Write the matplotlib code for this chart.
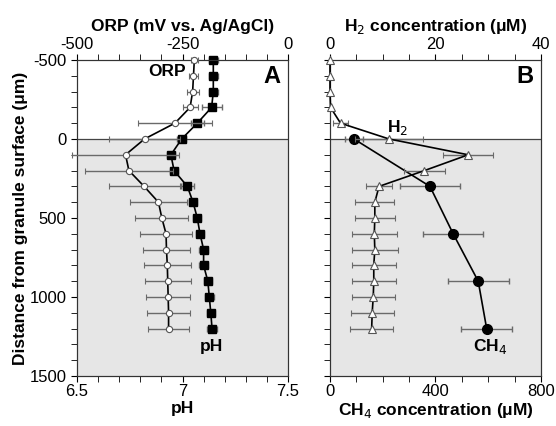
import numpy as np
import matplotlib.pyplot as plt
from matplotlib.ticker import MultipleLocator, FuncFormatter

plt.rcParams["font.family"] = ["Liberation Sans", "DejaVu Sans"]

# depth profile (um), shared by ORP, pH and H2
depth = [-500, -400, -300, -200, -100, 0, 100, 200, 300, 400,
         500, 600, 700, 800, 900, 1000, 1100, 1200]

orp = [-222, -224, -226, -232, -268, -340, -385, -377, -341, -307,
       -299, -289, -288, -286, -285, -284, -283, -283]
orp_err = [8, 10, 14, 18, 87, 85, 127, 104, 84, 68,
           63, 61, 55, 55, 54, 52, 50, 49]

ph = [7.146, 7.146, 7.146, 7.138, 7.07, 6.996, 6.945, 6.96, 7.023, 7.05,
      7.07, 7.083, 7.10, 7.10, 7.12, 7.127, 7.134, 7.14]
ph_err = [0.02, 0.02, 0.02, 0.047, 0.03, 0.02, 0.02, 0.02, 0.03, 0.02,
          0.02, 0.02, 0.02, 0.02, 0.02, 0.02, 0.02, 0.025]

h2 = [0, 0, 0, 0.1, 2.0, 11.2, 26.2, 17.9, 9.3, 8.5,
      8.5, 8.4, 8.5, 8.3, 8.3, 8.2, 8.0, 7.9]
h2_err = [np.nan, np.nan, np.nan, np.nan, 1.5, 6.4, 4.7, 3.9, 2.5, 3.7,
          3.8, 4.3, 4.4, 4.2, 4.2, 4.1, 4.1, 4.1]

ch4_depth = [0, 300, 600, 900, 1200]
ch4 = [91, 379, 467, 562, 594]
ch4_err = [35, 114, 115, 115, 97]

ERR_COLOR = "#6a6a6a"
SHADE = "#e6e6e6"
FS = 12.5

hyphen = FuncFormatter(lambda v, p: f"{v:g}".replace("\u2212", "-"))

fig = plt.figure(figsize=(5.56, 4.26), dpi=100)
ax_a = fig.add_axes([0.1385, 0.1174, 0.3795, 0.7418])
ax_b = fig.add_axes([0.5935, 0.1174, 0.3795, 0.7418])


def style_depth_axis(ax, labels):
    ax.set_ylim(1500, -500)
    ax.axhspan(0, 1500, color=SHADE, zorder=0, lw=0)
    ax.axhline(0, color="#444444", lw=0.9, zorder=1)
    ax.yaxis.set_major_locator(MultipleLocator(500))
    ax.yaxis.set_minor_locator(MultipleLocator(100))
    ax.yaxis.set_major_formatter(hyphen)
    ax.tick_params(axis="y", which="both", direction="out", length=4,
                   labelsize=12, labelleft=labels, right=False)
    for sp in ax.spines.values():
        sp.set_color("#333333")


def style_x(ax, major, minor):
    ax.xaxis.set_major_locator(MultipleLocator(major))
    ax.xaxis.set_minor_locator(MultipleLocator(minor))
    ax.xaxis.set_major_formatter(hyphen)
    ax.tick_params(axis="x", which="both", direction="out", length=4,
                   labelsize=12, pad=2)
    for sp in ax.spines.values():
        sp.set_color("#333333")


def profile(ax, x, y, err, **kw):
    cont = ax.errorbar(x, y, xerr=err, color="black", ecolor=ERR_COLOR,
                       elinewidth=1, capsize=2, lw=1.2, **kw)
    for art in cont.get_children():
        art.set_clip_on(False)
    return cont


# ---- panel A: pH (bottom) and ORP (top)
style_depth_axis(ax_a, True)
ax_a.set_xlim(6.5, 7.5)
style_x(ax_a, 0.5, 0.1)
profile(ax_a, ph, depth, ph_err, marker="s", ms=6, mfc="black",
        mec="black", zorder=4)
ax_a.set_xlabel("pH", fontsize=FS, fontweight="bold", labelpad=1)
ax_a.set_ylabel("Distance from granule surface (\u03bcm)", fontsize=FS,
                fontweight="bold", labelpad=1)

ax_orp = ax_a.twiny()
ax_orp.set_xlim(-500, 0)
style_x(ax_orp, 250, 50)
profile(ax_orp, orp, depth, orp_err, marker="o", ms=4.5, mfc="white",
        mec="#555555", mew=0.8, zorder=3)
ax_orp.set_xlabel("ORP (mV vs. Ag/AgCl)", fontsize=FS, fontweight="bold",
                  labelpad=4)
ax_orp.set_ylim(1500, -500)
ax_orp.text(-287, -426, "ORP", fontsize=FS, fontweight="bold",
            ha="center", va="center")
ax_a.text(7.138, 1315, "pH", fontsize=FS, fontweight="bold",
          ha="center", va="center")
ax_orp.text(-19, -394, "A", fontsize=17, fontweight="bold",
            ha="right", va="center")

# ---- panel B: CH4 (bottom) and H2 (top)
style_depth_axis(ax_b, False)
ax_b.set_xlim(0, 800)
style_x(ax_b, 400, 100)
profile(ax_b, ch4, ch4_depth, ch4_err, marker="o", ms=7, mfc="black",
        mec="black", zorder=4)
ax_b.set_xlabel("CH$_4$ concentration (\u03bcM)", fontsize=FS,
                fontweight="bold", labelpad=1)

ax_h2 = ax_b.twiny()
ax_h2.set_xlim(0, 40)
style_x(ax_h2, 20, 5)
profile(ax_h2, h2, depth, h2_err, marker="^", ms=6, mfc="white",
        mec="#555555", mew=0.8, zorder=3)
ax_h2.set_xlabel("H$_2$ concentration (\u03bcM)", fontsize=FS,
                 fontweight="bold", labelpad=4)
ax_h2.set_ylim(1500, -500)
ax_h2.text(12.9, -74, "H$_2$", fontsize=FS, fontweight="bold",
           ha="center", va="center")
ax_b.text(606, 1315, "CH$_4$", fontsize=FS, fontweight="bold",
          ha="center", va="center")
ax_h2.text(38.5, -394, "B", fontsize=17, fontweight="bold",
           ha="right", va="center")

fig.savefig("out.png", dpi=100)
